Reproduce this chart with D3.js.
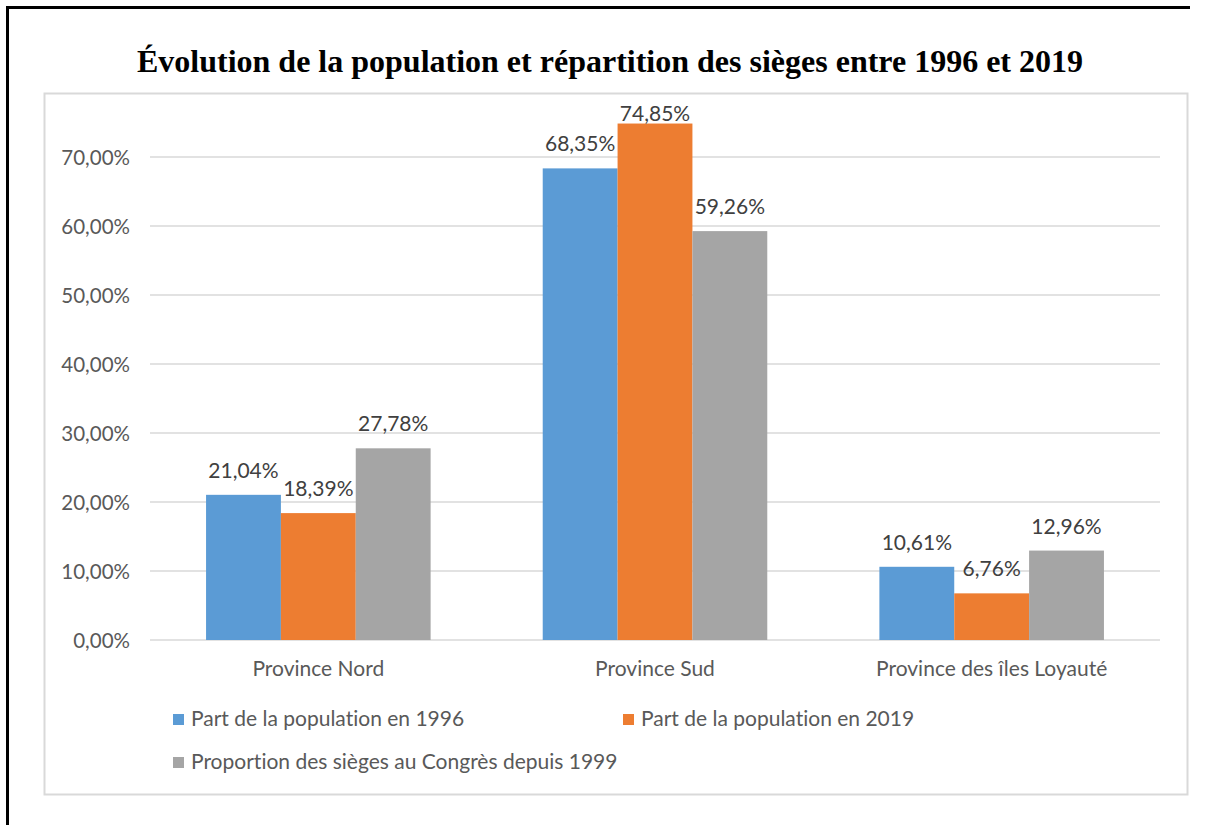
<!DOCTYPE html>
<html>
<head>
<meta charset="utf-8">
<script src="https://cdn.jsdelivr.net/npm/d3@7"></script>
<style>
 body { margin: 0; background: #fff; }
 svg text { font-family: Lato, "Open Sans", sans-serif; font-variant-ligatures: none; }
</style>
</head>
<body>
<div id="chart"></div>
<script>
// Chart data
var categories = ["Province Nord", "Province Sud", "Province des îles Loyauté"];
var seriesNames = ["Part de la population en 1996", "Part de la population en 2019",
                   "Proportion des sièges au Congrès depuis 1999"];
var pop1996 = [21.04, 68.35, 10.61];
var pop2019 = [18.39, 74.85, 6.76];
var sieges  = [27.78, 59.26, 12.96];
var yTicks  = [0, 10, 20, 30, 40, 50, 60, 70];
var colors  = ["#5B9BD5", "#ED7D31", "#A5A5A5"];

var W = 1205, H = 825;
var svg = d3.select("#chart").append("svg")
  .attr("width", W).attr("height", H);

svg.append("rect").attr("width", W).attr("height", H).attr("fill", "#fff");

// outer frame (top + left only visible)
svg.append("path")
  .attr("d", "M7.5,825 L7.5,7.5 L1190,7.5")
  .attr("fill", "none").attr("stroke", "#000").attr("stroke-width", 3);

// inner chart box
svg.append("rect")
  .attr("x", 44.5).attr("y", 93.5).attr("width", 1143).attr("height", 701)
  .attr("fill", "#fff").attr("stroke", "#D9D9D9").attr("stroke-width", 2);

// title
svg.append("text")
  .attr("x", 610).attr("y", 72)
  .attr("text-anchor", "middle")
  .style("font-family", "'Liberation Serif', 'Times New Roman', serif")
  .style("font-weight", "bold").style("font-size", "32px")
  .text("Évolution de la population et répartition des sièges entre 1996 et 2019");

var x0 = d3.scaleBand().domain(categories).range([150, 1160]).paddingInner(0.333).paddingOuter(0.1665);
var x1 = d3.scaleBand().domain(d3.range(3)).range([0, x0.bandwidth()]);
var y = d3.scaleLinear().domain([0, 70]).range([640, 157]);
var fmt = function(d){ return d.toFixed(2).replace(".", ",") + "%"; };

// gridlines
svg.append("g").selectAll("line").data(yTicks).enter().append("line")
  .attr("x1", 150).attr("x2", 1160)
  .attr("y1", function(d){ return y(d); }).attr("y2", function(d){ return y(d); })
  .attr("stroke", "#D9D9D9").attr("stroke-width", 1.5);

// y axis labels
var yAxis = svg.append("g").attr("transform", "translate(130,0)")
  .call(d3.axisLeft(y).tickValues(yTicks).tickSize(0).tickFormat(fmt));
yAxis.select(".domain").remove();
yAxis.selectAll("text").attr("x", 0).attr("dy", "0.35em")
  .style("font-size", "20.5px").attr("fill", "#595959");

// x axis labels
svg.append("g").selectAll("text").data(categories).enter().append("text")
  .attr("x", function(d){ return x0(d) + x0.bandwidth() / 2; })
  .attr("y", 676)
  .attr("text-anchor", "middle")
  .style("font-size", "21px").attr("fill", "#595959")
  .text(function(d){ return d; });

// bars
var series = [pop1996, pop2019, sieges];
series.forEach(function(vals, s) {
  var g = svg.append("g");
  g.selectAll("rect").data(vals).enter().append("rect")
    .attr("x", function(d, i){ return x0(categories[i]) + x1(s); })
    .attr("y", function(d){ return y(d); })
    .attr("width", x1.bandwidth())
    .attr("height", function(d){ return y(0) - y(d); })
    .attr("fill", colors[s]);
  g.selectAll("text").data(vals).enter().append("text")
    .attr("x", function(d, i){ return x0(categories[i]) + x1(s) + x1.bandwidth() / 2; })
    .attr("y", function(d){ return Math.max(y(d) - 17, 121); })  // kept inside chart box
    .attr("text-anchor", "middle")
    .style("font-size", "21px").attr("fill", "#404040")
    .text(fmt);
});

// legend
var legendPos = [[173, 719], [623, 719], [173, 762]];
var legend = svg.append("g").selectAll("g").data(seriesNames).enter().append("g")
  .attr("transform", function(d, i){ return "translate(" + legendPos[i][0] + "," + legendPos[i][1] + ")"; });
legend.append("rect").attr("x", 0).attr("y", -5).attr("width", 11).attr("height", 11)
  .attr("fill", function(d, i){ return colors[i]; });
legend.append("text").attr("x", 18).attr("dy", "0.35em")
  .style("font-size", "21px").attr("fill", "#595959")
  .text(function(d){ return d; });
</script>
</body>
</html>
